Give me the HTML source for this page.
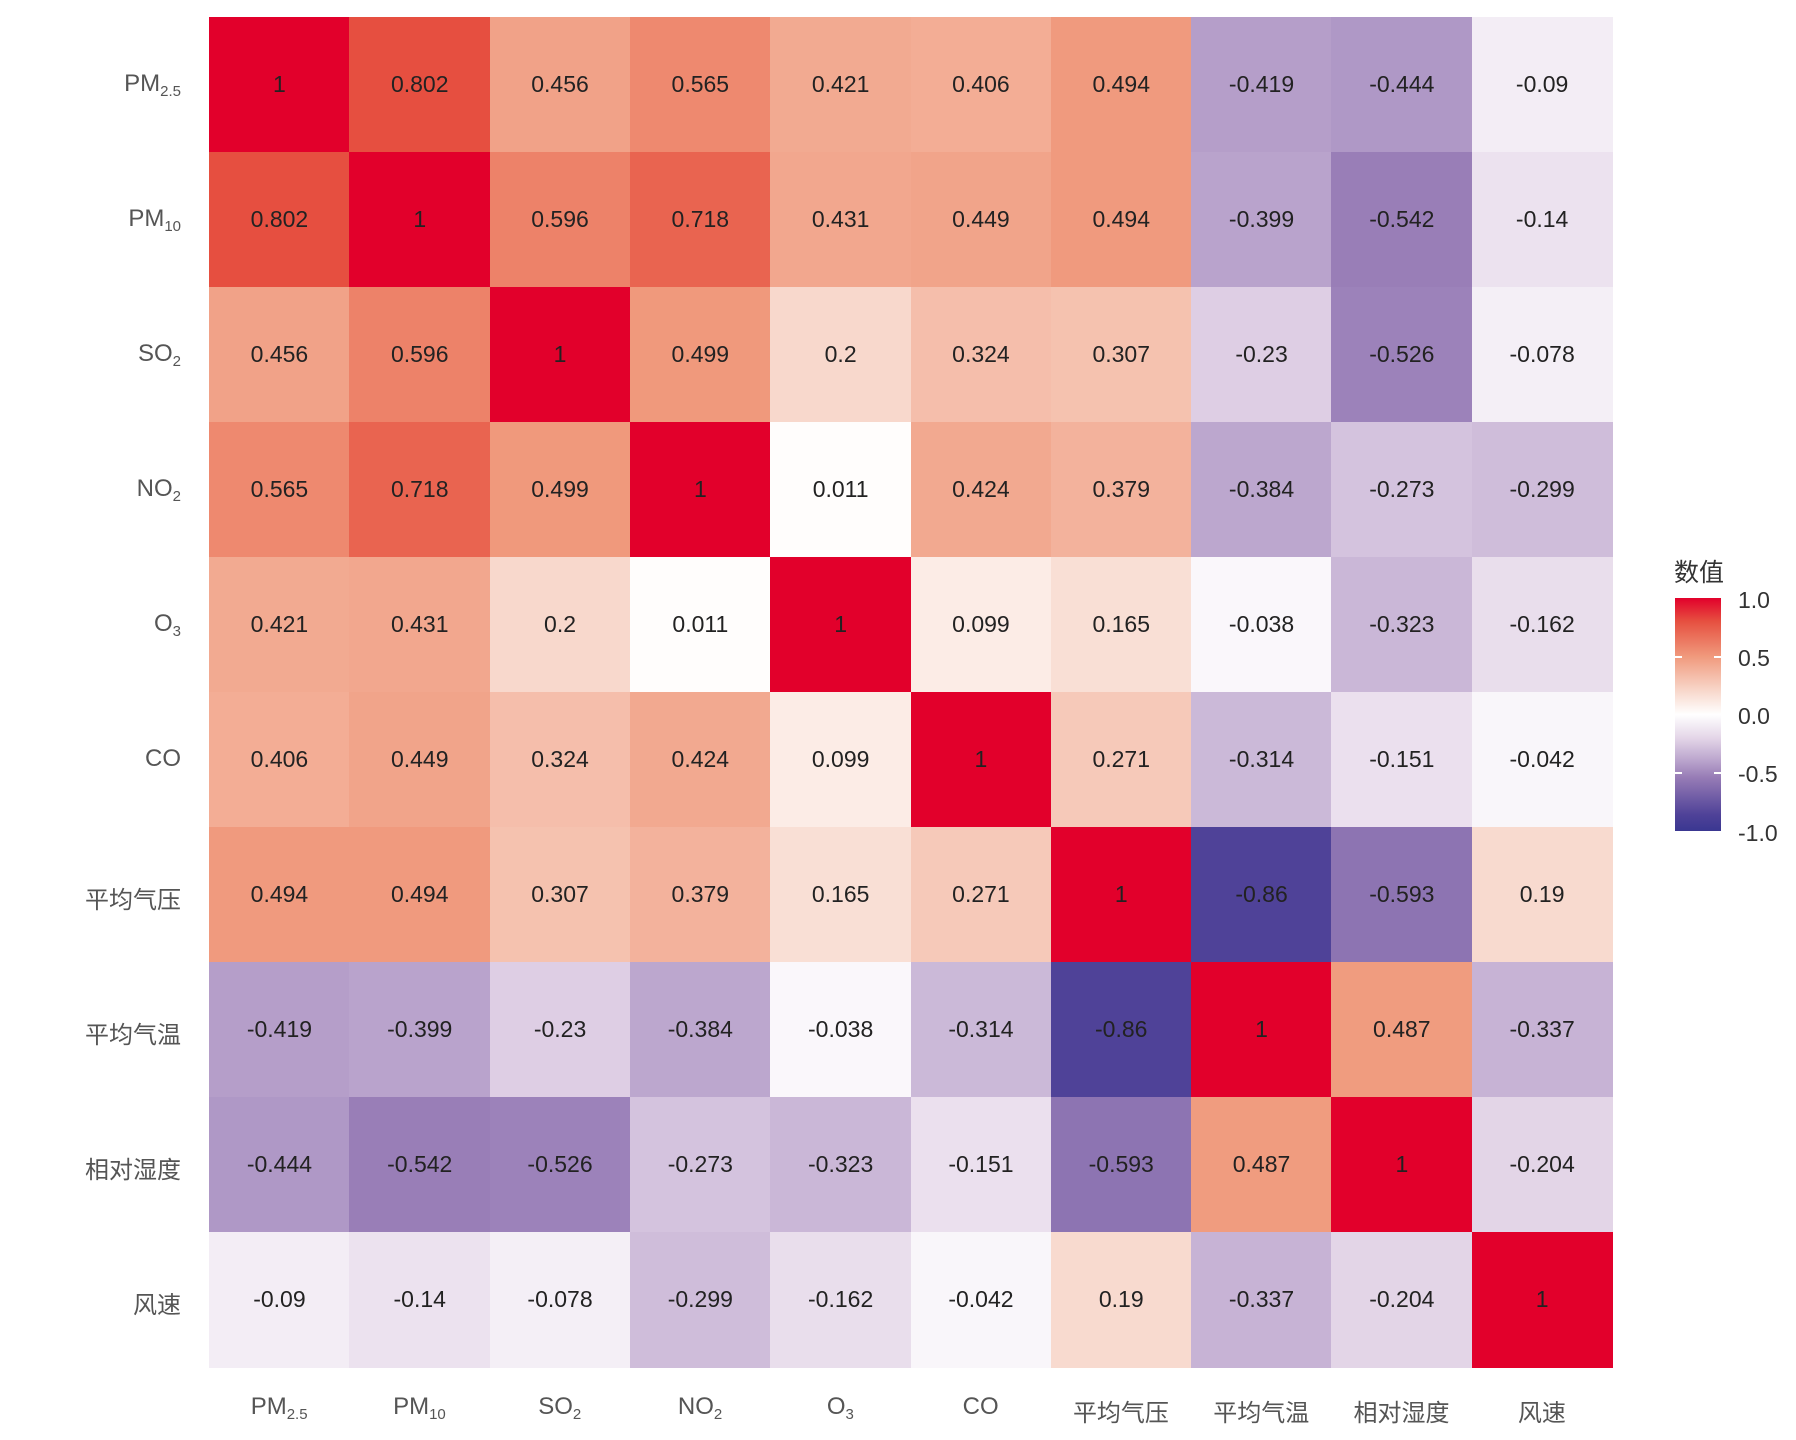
<!DOCTYPE html>
<html><head><meta charset="utf-8">
<style>
body{margin:0;background:#fff;width:1796px;height:1440px;overflow:hidden;position:relative;font-family:"Liberation Sans","Noto Sans CJK SC",sans-serif;}
.c{position:absolute;display:flex;align-items:center;justify-content:center;font-size:23px;color:#222;}
.rl{position:absolute;right:1615px;font-size:24px;color:#555;text-align:right;white-space:nowrap;}
.cl{position:absolute;font-size:24px;color:#555;text-align:center;white-space:nowrap;}
sub{font-size:15px;vertical-align:-5px;}
.lt{position:absolute;left:1738px;font-size:23px;color:#333;}
</style></head><body>
<div id="g"></div>
<div style="position:absolute;left:1674px;top:553px;font-size:25px;color:#333;">数值</div>
<div style="position:absolute;left:1675px;top:598px;width:46px;height:233px;background:linear-gradient(to bottom,#e2002b 0%,#e65040 10%,#f0997c 25%,#f8d8cc 40%,#ffffff 50%,#e4d6e8 60%,#b9a3cc 70%,#977cb6 77%,#4f4298 93%,#3a3791 100%);"></div>
<div style="position:absolute;left:1675px;top:656px;width:7px;height:2px;background:#fff"></div>
<div style="position:absolute;left:1714px;top:656px;width:7px;height:2px;background:#fff"></div>
<div style="position:absolute;left:1675px;top:772px;width:7px;height:2px;background:#fff"></div>
<div style="position:absolute;left:1714px;top:772px;width:7px;height:2px;background:#fff"></div>
<div class="lt" style="top:587px">1.0</div>
<div class="lt" style="top:645px">0.5</div>
<div class="lt" style="top:703px">0.0</div>
<div class="lt" style="top:761px">-0.5</div>
<div class="lt" style="top:820px">-1.0</div>
<script>
var M=[
[1,0.802,0.456,0.565,0.421,0.406,0.494,-0.419,-0.444,-0.09],
[0.802,1,0.596,0.718,0.431,0.449,0.494,-0.399,-0.542,-0.14],
[0.456,0.596,1,0.499,0.2,0.324,0.307,-0.23,-0.526,-0.078],
[0.565,0.718,0.499,1,0.011,0.424,0.379,-0.384,-0.273,-0.299],
[0.421,0.431,0.2,0.011,1,0.099,0.165,-0.038,-0.323,-0.162],
[0.406,0.449,0.324,0.424,0.099,1,0.271,-0.314,-0.151,-0.042],
[0.494,0.494,0.307,0.379,0.165,0.271,1,-0.86,-0.593,0.19],
[-0.419,-0.399,-0.23,-0.384,-0.038,-0.314,-0.86,1,0.487,-0.337],
[-0.444,-0.542,-0.526,-0.273,-0.323,-0.151,-0.593,0.487,1,-0.204],
[-0.09,-0.14,-0.078,-0.299,-0.162,-0.042,0.19,-0.337,-0.204,1]];
var L=['PM<sub>2.5</sub>','PM<sub>10</sub>','SO<sub>2</sub>','NO<sub>2</sub>','O<sub>3</sub>','CO','平均气压','平均气温','相对湿度','风速'];
var S=[[1,[226,0,43]],[0.8,[230,80,64]],[0.5,[240,153,124]],[0.2,[248,216,204]],[0,[255,255,255]],[-0.2,[228,214,232]],[-0.4,[185,163,204]],[-0.55,[151,124,182]],[-0.86,[79,66,152]],[-1,[58,55,145]]];
function col(v){for(var i=0;i<S.length-1;i++){var a=S[i],b=S[i+1];if(v<=a[0]&&v>=b[0]){var t=(a[0]-v)/(a[0]-b[0]);return 'rgb('+a[1].map(function(x,k){return Math.round(x+(b[1][k]-x)*t)}).join(',')+')';}}return '#fff';}
var x0=209,y0=17,w=140.3,h=135,H='';
for(var r=0;r<10;r++){for(var c=0;c<10;c++){var v=M[r][c];
H+='<div class="c" style="left:'+(x0+c*w)+'px;top:'+(y0+r*h)+'px;width:'+(w+0.6)+'px;height:'+(h+0.6)+'px;background:'+col(v)+'">'+v+'</div>';}
H+='<div class="rl" style="top:'+(y0+r*h+h/2-15)+'px">'+L[r]+'</div>';
H+='<div class="cl" style="left:'+(x0+r*w)+'px;width:'+w+'px;top:1393px">'+L[r]+'</div>';}
document.getElementById('g').innerHTML=H;
</script>
</body></html>
